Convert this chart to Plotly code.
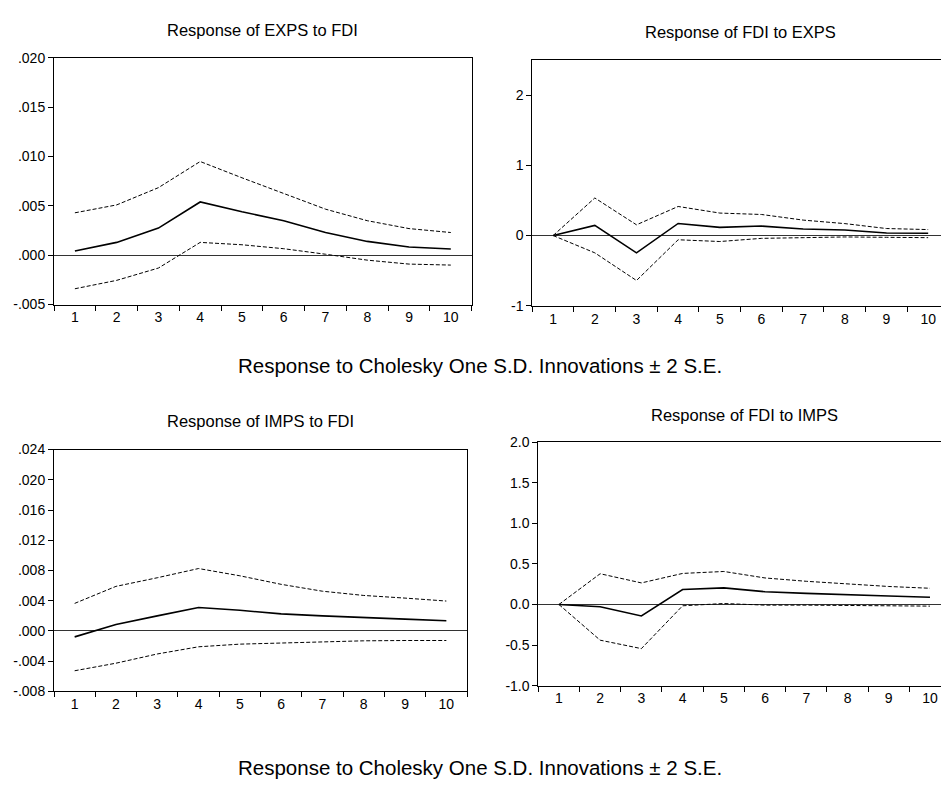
import plotly.graph_objects as go

periods = ["1", "2", "3", "4", "5", "6", "7", "8", "9", "10"]

# Response of EXPS to FDI
exps_fdi = [0.00043, 0.0013, 0.00275, 0.0054, 0.0044, 0.0035, 0.0023, 0.0014, 0.00083, 0.00063]
exps_fdi_up = [0.0043, 0.0051, 0.00685, 0.0095, 0.00785, 0.00626, 0.00467, 0.0035, 0.0027, 0.0023]
exps_fdi_lo = [-0.0034, -0.00255, -0.0013, 0.0013, 0.00106, 0.00066, 0.0001, -0.0005, -0.0009, -0.001]

# Response of FDI to EXPS
fdi_exps = [0.0, 0.144, -0.247, 0.172, 0.116, 0.135, 0.093, 0.08, 0.037, 0.033]
fdi_exps_up = [0.0, 0.535, 0.153, 0.414, 0.32, 0.30, 0.22, 0.17, 0.10, 0.085]
fdi_exps_lo = [0.0, -0.246, -0.64, -0.06, -0.085, -0.04, -0.03, -0.02, -0.025, -0.03]

# Response of IMPS to FDI
imps_fdi = [-0.00078, 0.00087, 0.002, 0.0031, 0.00274, 0.00226, 0.002, 0.00174, 0.00157, 0.00135]
imps_fdi_up = [0.00365, 0.0059, 0.00704, 0.00826, 0.0073, 0.00617, 0.00526, 0.0047, 0.00435, 0.00396]
imps_fdi_lo = [-0.00526, -0.00426, -0.00304, -0.00209, -0.00174, -0.00157, -0.00143, -0.0013, -0.00126, -0.00126]

# Response of FDI to IMPS
fdi_imps = [0.0, -0.028, -0.141, 0.185, 0.205, 0.157, 0.137, 0.117, 0.105, 0.089]
fdi_imps_up = [0.0, 0.379, 0.266, 0.383, 0.407, 0.327, 0.286, 0.254, 0.222, 0.20]
fdi_imps_lo = [0.0, -0.44, -0.544, -0.016, 0.012, -0.008, -0.008, -0.012, -0.016, -0.02]

titles = ["Response of EXPS to FDI", "Response of FDI to EXPS",
          "Response of IMPS to FDI", "Response of FDI to IMPS"]
caption = "Response to Cholesky One S.D. Innovations \u00b1 2 S.E."

y1_vals = [-0.005, 0.0, 0.005, 0.010, 0.015, 0.020]
y1_text = ["-.005", ".000", ".005", ".010", ".015", ".020"]
y2_vals = [-1, 0, 1, 2]
y2_text = ["-1", "0", "1", "2"]
y3_vals = [-0.008, -0.004, 0.0, 0.004, 0.008, 0.012, 0.016, 0.020, 0.024]
y3_text = ["-.008", "-.004", ".000", ".004", ".008", ".012", ".016", ".020", ".024"]
y4_vals = [-1.0, -0.5, 0.0, 0.5, 1.0, 1.5, 2.0]
y4_text = ["-1.0", "-0.5", "0.0", "0.5", "1.0", "1.5", "2.0"]

W, H = 941, 785
FONT = "Liberation Sans, Arial, sans-serif"

# pixel layout of each panel: left, right, top, bottom, x-range end, y-range
panels = [
    dict(l=54, r=471.7, t=51, b=302.7, xr=9.5, yr=[-0.005, 0.020], mirror_y=True,
         tv=y1_vals, tt=y1_text, data=(exps_fdi, exps_fdi_up, exps_fdi_lo), ty=22, cx=262.8),
    dict(l=532.3, r=941, t=53, b=304, xr=-0.5 + (941 - 532.3) / 41.67, yr=[-1, 2.5], mirror_y=False,
         tv=y2_vals, tt=y2_text, data=(fdi_exps, fdi_exps_up, fdi_exps_lo), ty=24, cx=740.6),
    dict(l=54, r=467, t=450.7, b=697.7, xr=9.5, yr=[-0.008, 0.024], mirror_y=True,
         tv=y3_vals, tt=y3_text, data=(imps_fdi, imps_fdi_up, imps_fdi_lo), ty=421.7, cx=260.5),
    dict(l=538.3, r=941, t=443.3, b=691.7, xr=-0.5 + (941 - 538.3) / 41.23, yr=[-1.0, 2.0], mirror_y=False,
         tv=y4_vals, tt=y4_text, data=(fdi_imps, fdi_imps_up, fdi_imps_lo), ty=415, cx=744.4),
]

fig = go.Figure()
annotations = []
for i, p in enumerate(panels):
    n = "" if i == 0 else str(i + 1)
    xa, ya = "x" + n, "y" + n
    mid, up, lo = p["data"]
    for series, dash, w in ((up, "4px,2px", 1), (lo, "4px,2px", 1), (mid, "solid", 1.6)):
        fig.add_trace(go.Scatter(x=periods, y=series, mode="lines", xaxis=xa, yaxis=ya,
                                 line=dict(color="black", width=w, dash=dash),
                                 showlegend=False, hoverinfo="skip"))
    fig.update_layout(**{
        "xaxis" + n: dict(domain=[p["l"] / W, min(p["r"] / W, 1.0)], anchor=ya, type="category",
                          range=[-0.5, p["xr"]], tickson="boundaries", ticks="outside", ticklen=5,
                          tickcolor="black", showline=True, linecolor="black", linewidth=1,
                          mirror=True, showgrid=False, zeroline=False,
                          tickfont=dict(family=FONT, size=14, color="black")),
        "yaxis" + n: dict(domain=[1 - p["b"] / H, 1 - p["t"] / H], anchor=xa, range=p["yr"],
                          tickmode="array", tickvals=p["tv"], ticktext=p["tt"], ticks="outside",
                          ticklen=5, tickcolor="black", showline=True, linecolor="black",
                          linewidth=1, mirror=p["mirror_y"], showgrid=False,
                          zeroline=True, zerolinecolor="#333333", zerolinewidth=1,
                          tickfont=dict(family=FONT, size=14, color="black")),
    })
    annotations.append(dict(text=titles[i], x=p["cx"] / W, y=1 - p["ty"] / H, xref="paper",
                            yref="paper", xanchor="center", yanchor="middle", showarrow=False,
                            font=dict(family=FONT, size=16.5, color="black")))

for cy in (365, 775):
    annotations.append(dict(text=caption, x=480 / W, y=1 - cy / H, xref="paper", yref="paper",
                            xanchor="center", yanchor="middle", showarrow=False,
                            font=dict(family=FONT, size=20.5, color="black")))

fig.update_layout(width=W, height=H, margin=dict(l=0, r=0, t=0, b=0),
                  paper_bgcolor="white", plot_bgcolor="white", annotations=annotations)

fig.write_html("out.html", config={"displayModeBar": False},
               post_script="document.body.style.margin='0';document.body.style.overflow='hidden';")
